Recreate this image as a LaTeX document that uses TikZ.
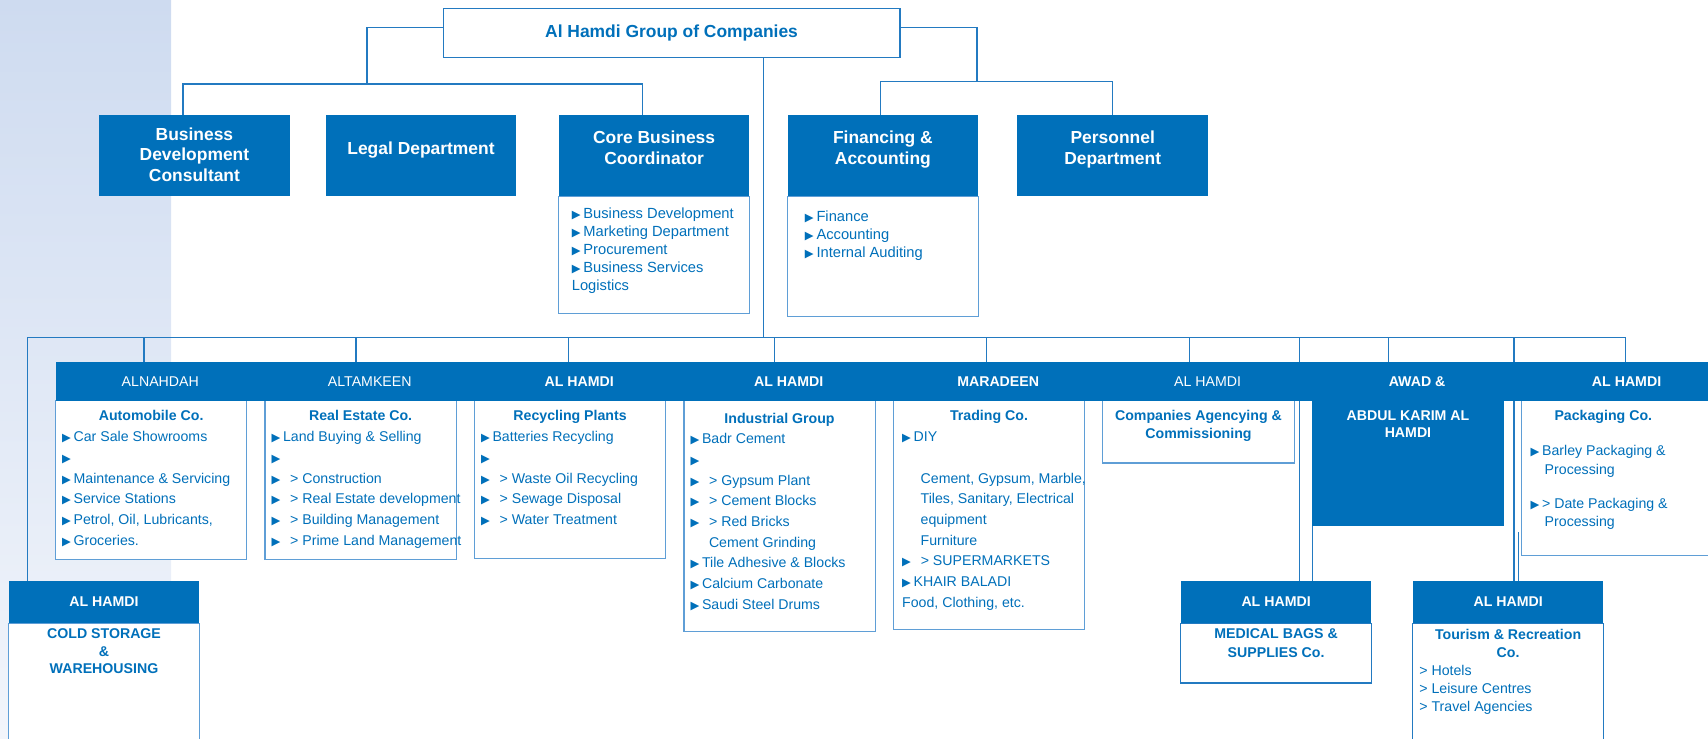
\documentclass[tikz,border=0pt]{standalone}
\usepackage{fontspec}
\setmainfont{Liberation Sans}
\newfontfamily\symf{DejaVu Sans}
\usetikzlibrary{backgrounds,positioning}
\definecolor{hblue}{RGB}{0,112,186}
\definecolor{lblue}{RGB}{95,158,214}
\definecolor{lnblue}{RGB}{35,122,193}
\definecolor{stripTop}{RGB}{206,219,240}
\definecolor{stripBot}{RGB}{242,245,251}
\newcommand{\tri}{{\symf\fontsize{10.5}{10.5}\selectfont ▶}}
\newcommand{\itm}[1]{\mbox{\tri\hspace{2.5pt}#1}\\}
\newcommand{\subitm}[1]{\mbox{\tri\hspace{9pt}> #1}\\}
\newcommand{\indline}[2]{\mbox{\hspace{#1pt}#2}\\}
\newcommand{\cbox}[3]{\parbox[c][#1pt][t]{#2pt}{#3}}
\tikzset{
  link/.style={draw=lnblue, line width=1.2pt}, % connectors between the boxes
  titlebox/.style={draw=lnblue, line width=1.4pt, fill=white, text=hblue, minimum width=419pt, minimum height=45pt, font=\bfseries\fontsize{16}{19}\selectfont},
  topbox/.style={fill=hblue, text=white, inner sep=0pt, font=\bfseries\fontsize{16}{19}\selectfont},
  body/.style={draw=lblue, line width=1pt, fill=white, text=hblue, inner ysep=0pt, outer sep=0pt, inner xsep=#1},
  body/.default=6pt,
  hdr/.style={fill=hblue, text=white, minimum width=192.3pt, minimum height=36pt, inner sep=0pt, outer sep=0pt, font=\fontsize{13}{15}\selectfont},
  hdrlow/.style={fill=hblue, text=white, minimum width=175pt, minimum height=39pt, inner sep=0pt, outer sep=0pt, font=\bfseries\fontsize{13}{15}\selectfont},
}
\begin{document}
\begin{tikzpicture}[x=1pt, y=-1pt]
\useasboundingbox (0,0) rectangle (1568,678);
% head office
\node[titlebox] (title) at (616.5,30.5) {Al Hamdi Group of Companies};
\node[topbox] (bdc) at (178.5,143) {\cbox{74}{175}{\centering\vspace*{11pt}Business\\Development\\Consultant}};
\node[topbox] (legal) at (386.5,143) {\cbox{74}{175}{\centering\vspace*{24pt}Legal Department}};
\node[topbox] (core) at (600.5,143) {\cbox{74}{175}{\centering\vspace*{14pt}Core Business\\Coordinator}};
\node[topbox] (fin) at (810.5,143) {\cbox{74}{175}{\centering\vspace*{14pt}Financing \&\\Accounting}};
\node[topbox] (pers) at (1021.5,143) {\cbox{74}{175}{\centering\vspace*{14pt}Personnel\\Department}};
\node[body=12pt, anchor=north, font=\fontsize{13.5}{16.5}\selectfont] (corebody) at (core.south)
  {\cbox{108}{151}{\raggedright\vspace*{11pt}\itm{Business Development}\itm{Marketing Department}\itm{Procurement}\itm{Business Services}Logistics}};
\node[body=16pt, anchor=north, font=\fontsize{13.5}{16.5}\selectfont] (finbody) at (fin.south)
  {\cbox{110}{143}{\raggedright\vspace*{13pt}\itm{Finance}\itm{Accounting}\itm{Internal Auditing}}};
% companies
\node[body, anchor=north west, font=\fontsize{13}{19}\selectfont] (b1) at (51,368)
  {\cbox{146}{163.5}{\centering\vspace*{9pt}\textbf{Automobile Co.}\par\raggedright
   \itm{Car Sale Showrooms}\itm{}\itm{Maintenance \& Servicing}\itm{Service Stations}\itm{Petrol, Oil, Lubricants,}\itm{Groceries.}}};
\node[body, anchor=north west, font=\fontsize{13}{19}\selectfont] (b2) at ([xshift=16.8pt]b1.north east)
  {\cbox{146}{163.5}{\centering\vspace*{9pt}\textbf{Real Estate Co.}\par\raggedright
   \itm{Land Buying \& Selling}\itm{}\subitm{Construction}\subitm{Real Estate development}\subitm{Building Management}\subitm{Prime Land Management}}};
\node[body, anchor=north west, font=\fontsize{13}{19}\selectfont] (b3) at ([xshift=16.8pt]b2.north east)
  {\cbox{145}{163.5}{\centering\vspace*{9pt}\textbf{Recycling Plants}\par\raggedright
   \itm{Batteries Recycling}\itm{}\subitm{Waste Oil Recycling}\subitm{Sewage Disposal}\subitm{Water Treatment}}};
\node[body, anchor=north west, font=\fontsize{13}{19}\selectfont] (b4) at ([xshift=16.8pt]b3.north east)
  {\cbox{212}{163.5}{\centering\vspace*{11pt}\textbf{Industrial Group}\par\raggedright
   \itm{Badr Cement}\itm{}\subitm{Gypsum Plant}\subitm{Cement Blocks}\subitm{Red Bricks}\indline{17}{Cement Grinding}%
   \itm{Tile Adhesive \& Blocks}\itm{Calcium Carbonate}\itm{Saudi Steel Drums}}};
\node[body=8pt, anchor=north west, font=\fontsize{13}{19}\selectfont] (b5) at ([xshift=16.8pt]b4.north east)
  {\cbox{210}{159.5}{\centering\vspace*{9pt}\textbf{Trading Co.}\par\raggedright
   \itm{DIY}\mbox{}\\\indline{17}{Cement, Gypsum, Marble,}\indline{17}{Tiles, Sanitary, Electrical}\indline{17}{equipment}\indline{17}{Furniture}%
   \subitm{SUPERMARKETS}\itm{KHAIR BALADI}\mbox{Food, Clothing, etc.}}};
\node[body, anchor=north west, font=\bfseries\fontsize{13}{16}\selectfont] (b6) at ([xshift=16.8pt]b5.north east)
  {\cbox{57}{163.5}{\centering\vspace*{9pt}Companies Agencying \&\\Commissioning}};
\node[body, draw=none, fill=hblue, text=white, anchor=north west, font=\bfseries\fontsize{13}{16}\selectfont] (b7) at ([xshift=16.8pt]b6.north east)
  {\cbox{115}{163.5}{\centering\vspace*{9pt}ABDUL KARIM AL\\HAMDI}};
\node[body=8pt, anchor=north west, font=\fontsize{13}{17}\selectfont] (b8) at ([xshift=16.8pt]b7.north east)
  {\cbox{142}{159.5}{\raggedright\vspace*{9pt}\hspace*{22pt}\textbf{Packaging Co.}\par\vspace{15pt}
   \itm{Barley Packaging \&}\indline{13}{Processing}\vspace{14pt}
   \mbox{\tri\hspace{2.5pt}> Date Packaging \&}\\\indline{13}{Processing}}};
\node[hdr, anchor=south west] (h1) at (b1.north west) {ALNAHDAH};
\node[hdr, anchor=south west] (h2) at (b2.north west) {ALTAMKEEN};
\node[hdr, anchor=south west] (h3) at (b3.north west) {\textbf{AL HAMDI}};
\node[hdr, anchor=south west] (h4) at (b4.north west) {\textbf{AL HAMDI}};
\node[hdr, anchor=south west] (h5) at (b5.north west) {\textbf{MARADEEN}};
\node[hdr, anchor=south west] (h6) at (b6.north west) {AL HAMDI};
\node[hdr, anchor=south west] (h7) at (b7.north west) {\textbf{AWAD \&}};
\node[hdr, anchor=south west] (h8) at (b8.north west) {\textbf{AL HAMDI}};
% lower companies
\node[hdrlow] (ch) at (95.5,552.5) {AL HAMDI};
\node[body, anchor=north, font=\bfseries\fontsize{13}{16}\selectfont] (cb) at (ch.south)
  {\cbox{108}{163}{\centering\vspace*{5.3pt}COLD STORAGE\\\&\\WAREHOUSING}};
\node[hdrlow] (mh) at (1171.5,552.5) {AL HAMDI};
\node[body, draw=lnblue, anchor=north, font=\bfseries\fontsize{13}{17}\selectfont] (mb) at (mh.south)
  {\cbox{55}{163}{\centering\vspace*{5.3pt}MEDICAL BAGS \&\\SUPPLIES Co.}};
\node[hdrlow] (th) at (1384.5,552.5) {AL HAMDI};
\node[body, draw=lnblue, anchor=north, font=\fontsize{13}{16.5}\selectfont] (tb) at (th.south)
  {\cbox{108}{163}{\centering\vspace*{5.3pt}\textbf{Tourism \& Recreation}\\\textbf{Co.}\par\raggedright
   > Hotels\\> Leisure Centres\\> Travel Agencies}};
\begin{pgfonlayer}{background}
\shade[top color=stripTop, bottom color=stripBot] (0,0) rectangle (157,678);
\coordinate (lj) at (337,77);
\coordinate (rj) at (897,75);
\coordinate (busL) at (25,310);
\coordinate (busR) at (1492,310);
\draw[link] ([yshift=5.5pt]title.west) -| (lj);
\draw[link] ([xshift=-10.5pt]bdc.north) |- (lj) -| ([xshift=-10.5pt]core.north);
\draw[link] ([yshift=5.5pt]title.east) -| (rj);
\draw[link] ([xshift=-2.5pt]fin.north) |- (rj) -| (pers.north);
\draw[link] ([xshift=84.5pt]title.south) |- (busR);
\draw[link] (busL) -- (busR);
\foreach \n/\d in {h1/-15pt,h2/-12.5pt,h3/-10pt,h4/-13pt,h5/-10.5pt,h6/-16.5pt,h7/-26pt,h8/-1pt}
  \draw[link] ([xshift=\d]\n.north) |- (busL);
\draw[link] (busL) -- (busL |- ch.north);
\draw[link] ([xshift=21.5pt]mh.north) |- (busR);
\draw[link] (b7.south west) -- (b7.south west |- mh.north);
\draw[link] ([xshift=5.5pt]th.north) |- (busR);
\draw[link] ([xshift=9.5pt]th.north) -- ++(0,-45);
\end{pgfonlayer}
\end{tikzpicture}
\end{document}
